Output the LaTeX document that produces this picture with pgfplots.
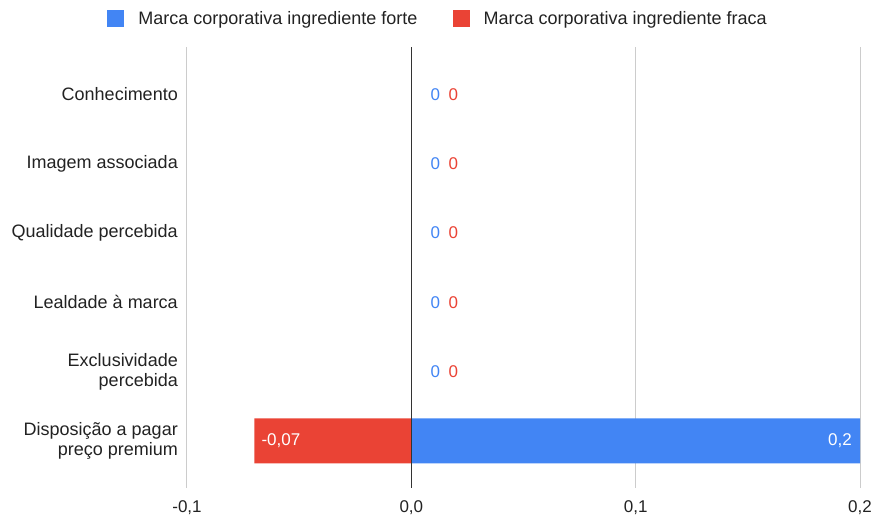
\documentclass[border=0pt]{standalone}
\usepackage{fontspec}
\setmainfont{Liberation Sans}
\usepackage{pgfplots}
\pgfplotsset{compat=1.18}
\definecolor{gblue}{RGB}{66,133,244}
\definecolor{gred}{RGB}{234,67,53}
\definecolor{ggrid}{RGB}{204,204,204}
\definecolor{gtext}{RGB}{34,34,34}
\definecolor{gzero}{RGB}{51,51,51}

\begin{document}
\begin{tikzpicture}[x=1pt,y=1pt]
\path[use as bounding box] (0,0) rectangle (875,519);
\begin{axis}[
    at={(187pt,31pt)}, anchor=south west,
    scale only axis, width=673pt, height=441pt,
    xmin=-0.1, xmax=0.2, ymin=-0.68, ymax=5.68,
    y dir=reverse,
    xtick={-0.1,0,0.1,0.2},
    xticklabels={{-0,1},{0,0},{0,1},{0,2}},
    ytick={0,1,2,3,4,5},
    yticklabels={Conhecimento, Imagem associada, Qualidade percebida, Lealdade à marca,
        {Exclusividade\\percebida}, {Disposição a pagar\\preço premium}},
    yticklabel style={align=right, inner sep=0pt, xshift=-9pt, text=gtext,
        font=\fontsize{18}{20}\selectfont},
    xticklabel style={inner sep=0pt, yshift=-12pt, text=gtext,
        font=\fontsize{17}{20}\selectfont},
    xmajorgrids, grid style={ggrid, line width=1pt},
    axis line style={draw=none},
    major tick length=0pt,
    clip=false,
    legend columns=2,
    legend style={draw=none, fill=none, at={(0.373,1.0646)}, anchor=center,
        font=\fontsize{18}{20}\selectfont, text=gtext, inner sep=0pt,
        /tikz/every even column/.append style={column sep=33pt}},
    legend cell align=left,
    legend image code/.code={\fill[#1] (0pt,-8.5pt) rectangle (17pt,8.5pt);
        \path (29pt,0pt);},
]
% bars
\addplot[xbar, bar width=45pt, bar shift=0pt, fill=gblue, draw=none]
    coordinates {(0,0) (0,1) (0,2) (0,3) (0,4) (0.2,5)};
\addlegendentry{Marca corporativa ingrediente forte}
\addplot[xbar, bar width=45pt, bar shift=0pt, fill=gred, draw=none]
    coordinates {(0,0) (0,1) (0,2) (0,3) (0,4) (-0.07,5)};
\addlegendentry{Marca corporativa ingrediente fraca}

% value labels
\addplot[forget plot, draw=none, mark=none, nodes near coords={0},
    nodes near coords style={anchor=west, inner sep=0pt, xshift=19pt, text=gblue,
        font=\fontsize{17}{20}\selectfont}]
    coordinates {(0,0) (0,1) (0,2) (0,3) (0,4)};
\addplot[forget plot, draw=none, mark=none, nodes near coords={0},
    nodes near coords style={anchor=west, inner sep=0pt, xshift=37pt, text=gred,
        font=\fontsize{17}{20}\selectfont}]
    coordinates {(0,0) (0,1) (0,2) (0,3) (0,4)};
\addplot[forget plot, draw=none, mark=none, nodes near coords={0{,}2},
    nodes near coords style={anchor=east, inner sep=0pt, xshift=-8pt, text=white,
        font=\fontsize{17}{20}\selectfont}]
    coordinates {(0.2,5)};
\addplot[forget plot, draw=none, mark=none, nodes near coords={-0{,}07},
    nodes near coords style={anchor=west, inner sep=0pt, xshift=7pt, text=white,
        font=\fontsize{17}{20}\selectfont}]
    coordinates {(-0.07,5)};

\draw[gzero, line width=1.2pt] (axis cs:0,-0.68) -- (axis cs:0,5.68);
\end{axis}
\end{tikzpicture}
\end{document}
